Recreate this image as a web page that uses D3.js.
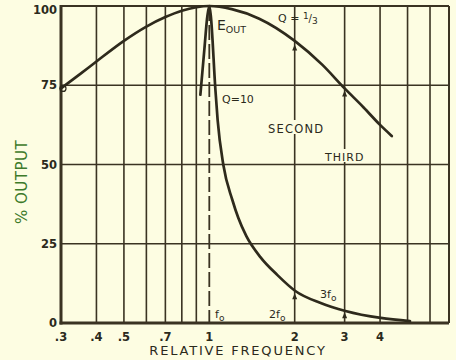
<!DOCTYPE html>
<html>
<head>
<meta charset="utf-8">
<script src="https://cdn.jsdelivr.net/npm/d3@7/dist/d3.min.js"></script>
<style>
  html, body { margin: 0; padding: 0; background: #fdfde2; }
  svg { display: block; }
  text { font-family: "DejaVu Sans", Verdana, sans-serif; fill: #2b2a1c; }
</style>
</head>
<body>
<svg id="chart" width="456" height="360"></svg>
<script>
// Relative frequency response of a tuned circuit, broad (Q = 1/3) and sharp (Q = 10)
const xTicks = [0.3, 0.4, 0.5, 0.7, 1, 2, 3, 4];
const xTickLabels = [".3", ".4", ".5", ".7", "1", "2", "3", "4"];
const xGrid = [0.4, 0.5, 0.6, 0.7, 0.8, 0.9, 2, 3, 4, 5, 6];
const yTicks = [0, 25, 50, 75, 100];
const yTickLabels = ["0", "25", "50", "75", "100"];

// Q = 1/3 curve
const broadFreq = [0.3, 0.35, 0.4, 0.5, 0.6, 0.7, 0.8, 0.9, 1.0, 1.2, 1.5, 2.0, 2.5, 3.0, 3.5, 4.0, 4.4];
const broadOut  = [74, 78.5, 82.5, 89, 93.5, 96.5, 98.5, 99.6, 100, 99, 96, 89, 81.5, 74, 68, 62.5, 59];

// Q = 10 curve
const sharpFreq = [0.93, 0.96, 0.985, 1.0, 1.012, 1.05, 1.07, 1.12, 1.206, 1.266, 1.351, 1.514, 1.739, 2.01, 2.47, 3.02, 4.02, 5.1];
const sharpOut  = [72, 86, 97, 100, 97, 74, 64, 50, 38.8, 33.1, 27.4, 20.8, 15.1, 10.1, 6.3, 3.8, 1.6, 0.6];

// harmonic points marked on the curves
const markFreq = [2, 3, 2, 3];
const markOut  = [88.5, 74, 10, 4];

const ink = "#3a3322";
const bg = "#fdfde2";
const svg = d3.select("#chart");

const x = d3.scaleLog().domain([0.3, 7]).range([61, 449]);
const y = d3.scaleLinear().domain([0, 100]).range([323, 6]);

// vertical grid lines
svg.append("g").selectAll("line").data(xGrid).join("line")
  .attr("x1", d => x(d)).attr("x2", d => x(d))
  .attr("y1", y(100)).attr("y2", y(0))
  .attr("stroke", ink).attr("stroke-width", 1.6);

// horizontal grid lines
svg.append("g").selectAll("line").data([25, 50, 75]).join("line")
  .attr("x1", x(0.3)).attr("x2", x(7))
  .attr("y1", d => y(d)).attr("y2", d => y(d))
  .attr("stroke", ink).attr("stroke-width", 1.6);

// labels that interrupt the vertical grid lines behind them
function boxedLabel(tx, ty, str, size, spacing) {
  const g = svg.append("g");
  const r = g.append("rect").attr("fill", bg);
  const t = g.append("text").attr("x", tx).attr("y", ty)
    .attr("font-size", size).attr("letter-spacing", spacing).text(str);
  const b = t.node().getBBox();
  r.attr("x", b.x - 1).attr("y", b.y - 2).attr("width", b.width + 2).attr("height", ty + 1 - (b.y - 2));
}
boxedLabel(268, 133, "SECOND", 11.5, 1.2);
boxedLabel(325, 161, "THIRD", 11, 1);

// resonance line f0
svg.append("line")
  .attr("x1", x(1)).attr("x2", x(1))
  .attr("y1", y(100)).attr("y2", y(0))
  .attr("stroke", ink).attr("stroke-width", 1.8)
  .attr("stroke-dasharray", "15,4");

// frame
svg.append("line").attr("x1", x(0.3)).attr("x2", x(7)).attr("y1", y(100)).attr("y2", y(100))
  .attr("stroke", ink).attr("stroke-width", 2);
svg.append("line").attr("x1", x(7)).attr("x2", x(7)).attr("y1", y(100)).attr("y2", y(0))
  .attr("stroke", ink).attr("stroke-width", 2);
svg.append("line").attr("x1", x(0.3)).attr("x2", x(0.3)).attr("y1", y(100) - 1).attr("y2", y(0) + 1.5)
  .attr("stroke", ink).attr("stroke-width", 3);
svg.append("line").attr("x1", x(0.3) - 1.5).attr("x2", x(7)).attr("y1", y(0)).attr("y2", y(0))
  .attr("stroke", ink).attr("stroke-width", 3);

// curves
const line = d3.line().x(d => x(d[0])).y(d => y(d[1])).curve(d3.curveMonotoneX);
svg.append("path")
  .datum(broadFreq.map((f, i) => [f, broadOut[i]]))
  .attr("d", line).attr("fill", "none")
  .attr("stroke", "#2e2a1c").attr("stroke-width", 2.7).attr("stroke-linecap", "round");
svg.append("path")
  .datum(sharpFreq.map((f, i) => [f, sharpOut[i]]))
  .attr("d", line).attr("fill", "none")
  .attr("stroke", "#2e2a1c").attr("stroke-width", 2.7).attr("stroke-linecap", "round")
  .attr("stroke-linejoin", "round");

// markers on harmonics
svg.append("g").selectAll("path").data(markFreq.map((f, i) => [f, markOut[i]])).join("path")
  .attr("d", d => {
    const cx = x(d[0]), cy = y(d[1]) + 2;
    return `M${cx},${cy} L${cx - 2.5},${cy + 6} L${cx + 2.5},${cy + 6} Z`;
  })
  .attr("fill", "#2e2a1c");
svg.append("circle").attr("cx", x(0.3) + 2).attr("cy", y(broadOut[0]))
  .attr("r", 3).attr("fill", "none").attr("stroke", "#2e2a1c").attr("stroke-width", 1.2);

// x tick labels
svg.append("g").selectAll("text").data(xTicks).join("text")
  .attr("x", d => x(d)).attr("y", 341)
  .attr("text-anchor", "middle").attr("font-size", 11.5).attr("font-weight", "bold")
  .text((d, i) => xTickLabels[i]);

// y tick labels
svg.append("g").selectAll("text").data(yTicks).join("text")
  .attr("x", 57).attr("y", d => d === 100 ? y(d) + 8 : y(d) + 4)
  .attr("text-anchor", "end").attr("font-size", 11.5).attr("font-weight", "bold")
  .text((d, i) => yTickLabels[i]);

// axis titles
svg.append("text")
  .attr("x", 238).attr("y", 355)
  .attr("text-anchor", "middle").attr("font-size", 13).attr("letter-spacing", 1.8)
  .text("RELATIVE FREQUENCY");
svg.append("text")
  .attr("transform", "translate(27,182) rotate(-90)")
  .attr("text-anchor", "middle").attr("font-size", 15).attr("letter-spacing", 0.5)
  .style("fill", "#3d7a2a")
  .text("% OUTPUT");

// curve annotations
const eout = svg.append("text").attr("x", 217).attr("y", 30).attr("font-size", 14);
eout.append("tspan").text("E");
eout.append("tspan").attr("font-size", 9.5).attr("dy", 3).text("OUT");

svg.append("text").attr("x", 222).attr("y", 103).attr("font-size", 11).text("Q=10");

const q3 = svg.append("text").attr("x", 278).attr("y", 22).attr("font-size", 11);
q3.append("tspan").text("Q = ");
q3.append("tspan").attr("font-size", 9).attr("dy", -3).text("1");
q3.append("tspan").attr("font-size", 10).attr("dy", 3).text("/");
q3.append("tspan").attr("font-size", 9).attr("dy", 2).text("3");

function subLabel(tx, ty, pre) {
  const t = svg.append("text").attr("x", tx).attr("y", ty).attr("font-size", 11);
  t.append("tspan").text(pre + "f");
  t.append("tspan").attr("font-size", 9).attr("dy", 3).text("o");
}
subLabel(215, 318, "");
subLabel(269, 318, "2");
subLabel(320, 298, "3");
</script>
</body>
</html>
